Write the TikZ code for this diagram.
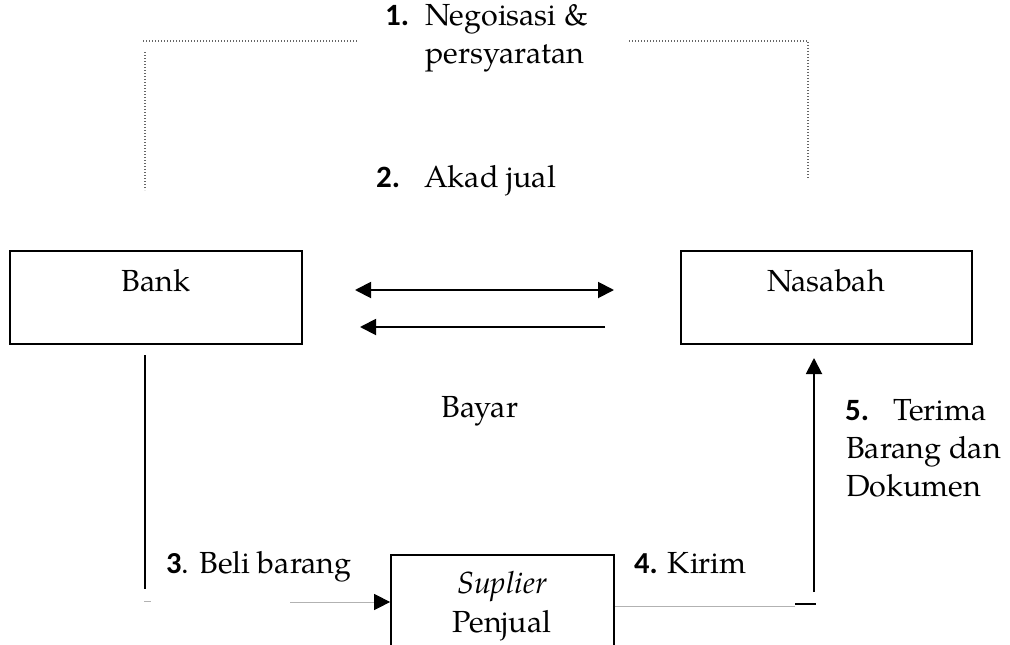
\documentclass[tikz,border=0pt]{standalone}
\usepackage{fontspec}
\setmainfont{TeX Gyre Pagella}
\newfontfamily\numfont{Carlito}
\usetikzlibrary{arrows.meta}

\begin{document}
\begin{tikzpicture}[x=1pt,y=-1pt,
  box/.style={draw, line width=1.7pt, inner sep=0pt},
  txt/.style={inner sep=0pt, font=\fontsize{30.5}{38}\selectfont},
  lbl/.style={txt, anchor=base west},
  ctr/.style={txt, anchor=base},
  num/.style={lbl, font=\fontsize{31}{38}\selectfont\numfont\bfseries},
  flow/.style={line width=1.9pt},
  head/.tip={Triangle[length=16pt,width=16pt]},
  tip/.style={-head},
  dots/.style={black!60, line width=1.2pt, dash pattern=on 1.2pt off 1.8pt},
  faint/.style={gray!60, line width=1pt}]
\path[use as bounding box, clip] (0,0) rectangle (1010,645);
\fill[white] (0,0) rectangle (1010,645);

% parties
\node[box, minimum width=292pt, minimum height=93pt] (bank) at (156,297.5) {};
\node[ctr] (banklbl) at (156,291) {Bank};
\node[box, minimum width=291pt, minimum height=93pt] (nasabah) at (826.5,297.5) {};
\node[ctr] (naslbl) at (826,291) {Nasabah};
\node[box, minimum width=223pt, minimum height=110pt] (suplier) at (502.5,610) {};
\node[ctr] (suplbl) at (502,593) {\itshape Suplier};
\node[ctr] (penjual) at (502,632) {Penjual};

% step labels
\node[num] (n1) at (385,25) {1.};
\node[lbl] (t1a) at (425,25) {Negoisasi \&};
\node[lbl] (t1b) at (425,63) {persyaratan};
\node[num] (n2) at (376,187) {2.};
\node[lbl] (t2) at (424,187) {Akad jual};
\node[ctr] (bayar) at (480,417) {Bayar};
\node[lbl] (t3) at (166,573) {{\numfont\bfseries 3}. Beli barang};
\node[lbl] (t4) at (634,573) {{\numfont\bfseries 4.} Kirim};
\node[num] (n5) at (845,420) {5.};
\node[lbl] (t5a) at (893,420) {Terima};
\node[lbl] (t5b) at (846,458) {Barang dan};
\node[lbl] (t5c) at (846,496) {Dokumen};

% negotiation frame
\coordinate (fa) at (143,41);
\coordinate (fb) at (358,41);
\coordinate (fc) at (145,52);
\coordinate (fd) at (145,190);
\coordinate (fe) at (629,41);
\coordinate (ff) at (808,41);
\coordinate (fg) at (808,179);
\draw[dots] (fa) -- (fb);
\draw[dots] (fc) -- (fd);
\draw[dots] (fe) -- (ff) -- (fg);

% sale and payment between bank and customer
\coordinate (a1) at (355,290);
\coordinate (a2) at (614,290);
\draw[flow, head-head] (a1) -- (a2);
\coordinate (r1) at (605,327);
\coordinate (r2) at (360,327);
\draw[flow, tip] (r1) -- (r2);

% purchase from supplier
\coordinate (b1) at (145,355);
\coordinate (b2) at (145,589);
\draw[flow] (b1) -- (b2);
\coordinate (d1) at (144,601);
\coordinate (d2) at (151,601);
\draw[faint] (d1) -- (d2);
\coordinate (s0) at (290,602);
\draw[faint, -{Triangle[length=16pt,width=16pt,color=black]}] (s0) -- (s0 -| suplier.west);

% delivery to customer
\coordinate (k1) at (795,606);
\draw[faint] (suplier.east |- k1) -- (k1);
\coordinate (k2) at (795,604);
\coordinate (k3) at (816,604);
\draw[flow] (k2) -- (k3);
\coordinate (u0) at (814,592);
\coordinate (u1) at (814,358);
\draw[flow, tip] (u0) -- (u1);
\end{tikzpicture}
\end{document}
